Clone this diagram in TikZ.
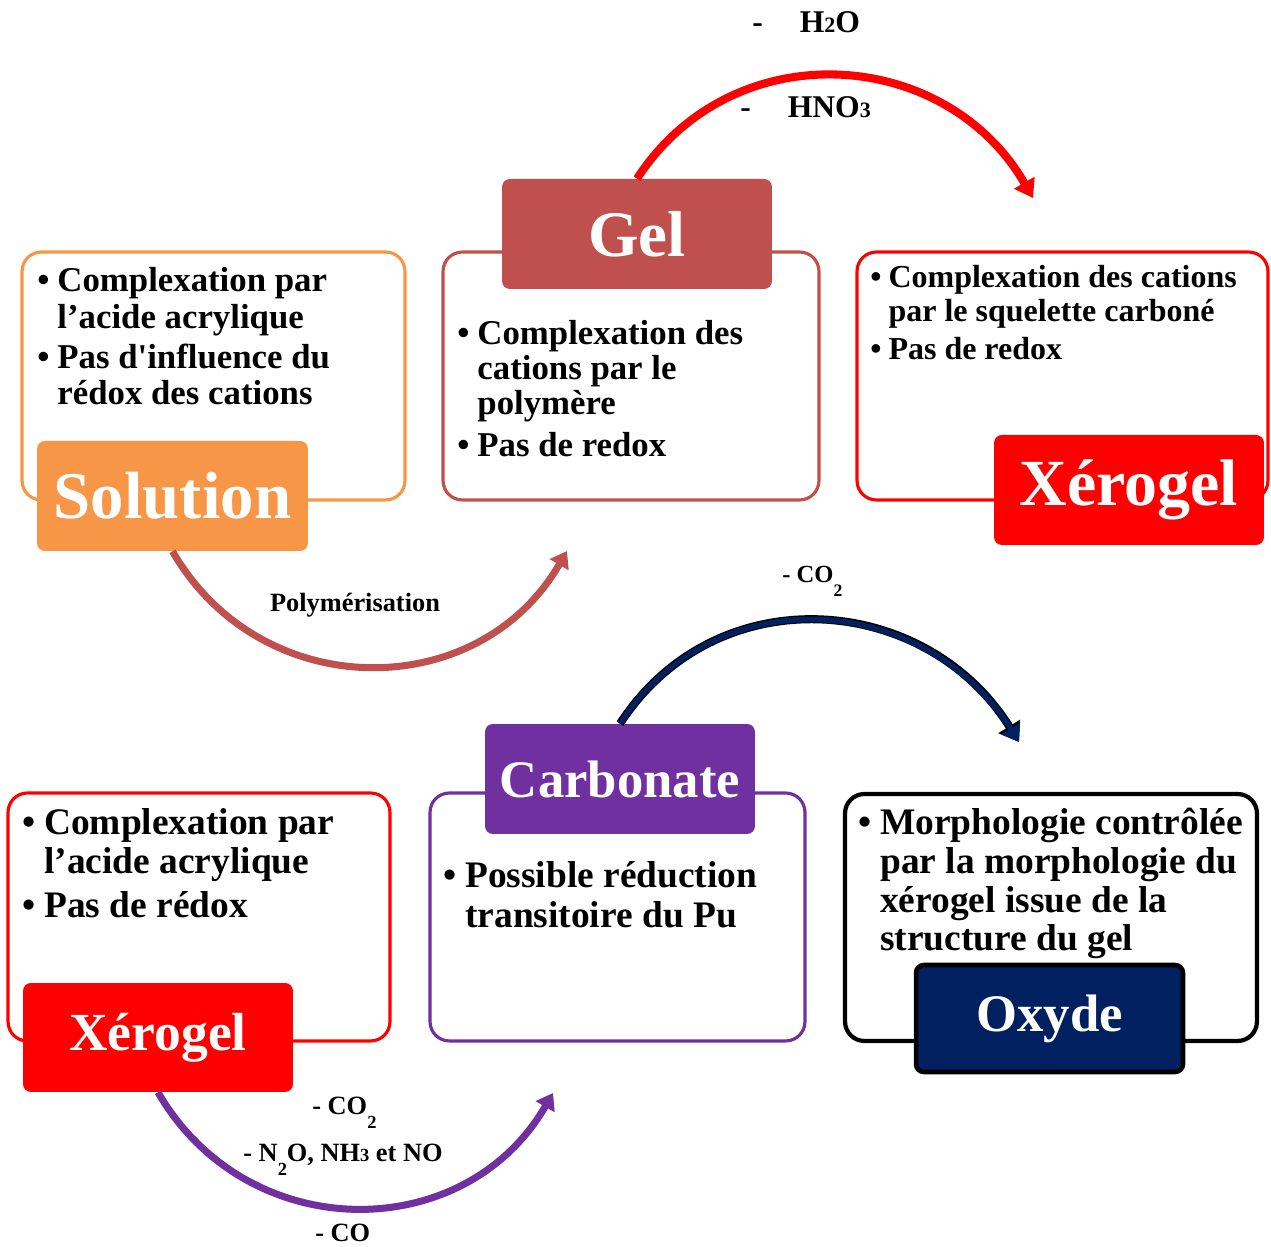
\documentclass[tikz,border=0pt]{standalone}
\usepackage{fontspec}
\setmainfont{Liberation Serif}[Ligatures=TeXOff]
\usetikzlibrary{arrows.meta}
\definecolor{solorange}{HTML}{F79646}
\definecolor{gelred}{HTML}{C0504D}
\definecolor{xerored}{HTML}{FF0000}
\definecolor{carbviolet}{HTML}{7030A0}
\definecolor{oxnavy}{HTML}{002060}
\newcommand{\blt}{\textbullet}
\newcommand{\lowsub}[2]{\raisebox{-7.5pt}{\fontsize{#1}{#1}\selectfont #2}}
\newcommand{\flatsub}[2]{{\fontsize{#1}{#1}\selectfont #2}}
\tikzset{
  stagebox/.style = {draw, line width=1.8pt, rounded corners=11pt, fill=white,
                     inner sep=0pt},
  stagelbl/.style = {text=white, rounded corners=4.5pt, inner sep=0pt,
                     font=\bfseries},
  notetxt/.style  = {anchor=base west, inner sep=0pt, align=left},
  steplbl/.style  = {inner sep=0pt, font=\bfseries},
  flow/.style     = {line width=4pt, -{Triangle[length=9pt,width=12pt]}},
}

\begin{document}
\begin{tikzpicture}[x=0.02cm,y=0.02cm]
  \useasboundingbox (0,0) rectangle (1271,1247);
  % top row: solution, gel, xerogel
  \node[stagebox, draw=solorange, minimum width=7.66cm, minimum height=4.96cm] (solbox) at (213.5,871) {};
  \node[stagelbl, fill=solorange, minimum width=5.42cm, minimum height=2.2cm,
        font=\bfseries\fontsize{38}{40}\selectfont] (sollbl) at (172.5,751) {Solution};
  \node[notetxt, font=\bfseries\fontsize{19.8}{20.7}\selectfont] (soltxt) at (37,955)
    {\begin{tabular}[t]{@{}l@{\hspace{4.5pt}}l@{}}
      \blt & Complexation par\\ & l’acide acrylique\\[2pt]
      \blt & Pas d'influence du\\ & rédox des cations
    \end{tabular}};

  \node[stagebox, draw=gelred, minimum width=7.52cm, minimum height=4.96cm] (gelbox) at (631,871) {};
  \node[stagelbl, fill=gelred, minimum width=5.4cm, minimum height=2.2cm,
        font=\bfseries\fontsize{37}{40}\selectfont] (gellbl) at (637,1013) {Gel};
  \node[notetxt, font=\bfseries\fontsize{19.8}{19.8}\selectfont] (geltxt) at (457,902)
    {\begin{tabular}[t]{@{}l@{\hspace{4.5pt}}l@{}}
      \blt & Complexation des\\ & cations par le\\ & polymère\\[4pt]
      \blt & Pas de redox
    \end{tabular}};

  \node[stagebox, draw=xerored, minimum width=8.22cm, minimum height=4.96cm] (xabox) at (1062.5,871) {};
  \node[stagelbl, fill=xerored, minimum width=5.4cm, minimum height=2.2cm,
        font=\bfseries\fontsize{37.5}{40}\selectfont] (xalbl) at (1129,757) {Xérogel};
  \node[notetxt, font=\bfseries\fontsize{18.2}{19.3}\selectfont] (xatxt) at (870,959)
    {\begin{tabular}[t]{@{}l@{\hspace{4pt}}l@{}}
      \blt & Complexation des cations\\ & par le squelette carboné\\[2pt]
      \blt & Pas de redox
    \end{tabular}};

  % bottom row: xerogel, carbonate, oxyde
  \node[stagebox, draw=xerored, minimum width=7.64cm, minimum height=4.96cm] (xbbox) at (199,330) {};
  \node[stagelbl, fill=xerored, minimum width=5.4cm, minimum height=2.18cm,
        font=\bfseries\fontsize{30.5}{32}\selectfont] (xblbl) at (158,209.5) {Xérogel};
  \node[notetxt, font=\bfseries\fontsize{21.3}{22}\selectfont] (xbtxt) at (22,412)
    {\begin{tabular}[t]{@{}l@{\hspace{5pt}}l@{}}
      \blt & Complexation par\\ & l’acide acrylique\\[3pt]
      \blt & Pas de rédox
    \end{tabular}};

  \node[stagebox, draw=carbviolet, minimum width=7.5cm, minimum height=4.96cm] (carbbox) at (617.5,330) {};
  \node[stagelbl, fill=carbviolet, minimum width=5.4cm, minimum height=2.2cm,
        font=\bfseries\fontsize{30}{32}\selectfont] (carblbl) at (620,468) {Carbonate};
  \node[notetxt, font=\bfseries\fontsize{21.3}{22.7}\selectfont] (carbtxt) at (443,359)
    {\begin{tabular}[t]{@{}l@{\hspace{5pt}}l@{}}
      \blt & Possible réduction\\ & transitoire du Pu
    \end{tabular}};

  \node[stagebox, draw=black, line width=2.4pt, minimum width=8.24cm, minimum height=4.94cm] (oxbox) at (1051,329.5) {};
  \node[stagelbl, fill=oxnavy, draw=black, line width=2.6pt, minimum width=5.34cm, minimum height=2.14cm,
        font=\bfseries\fontsize{30}{32}\selectfont] (oxlbl) at (1049.5,228.5) {Oxyde};
  \node[notetxt, font=\bfseries\fontsize{21.3}{22}\selectfont] (oxtxt) at (858,412)
    {\begin{tabular}[t]{@{}l@{\hspace{5pt}}l@{}}
      \blt & Morphologie contrôlée\\ & par la morphologie du\\ & xérogel issue de la\\ & structure du gel
    \end{tabular}};

  % transformation arrows
  \coordinate (polyend) at (567,696);
  \draw[flow, gelred] (sollbl.south) to[out=-60, in=-120, looseness=1.15] (polyend);
  \node[steplbl, font=\bfseries\fontsize{15}{16}\selectfont] (polylbl) at (355,642) {Polymérisation};

  \coordinate (dryend) at (1033,1049);
  \draw[flow, xerored, line width=4.6pt, -{Triangle[length=10pt,width=13pt]}]
    (gellbl.north) to[out=57, in=120, looseness=1.13] (dryend);
  \node[steplbl, anchor=base west, font=\bfseries\fontsize{18}{20}\selectfont] (h2olbl) at (752,1214)
    {-\hspace{21pt}H\flatsub{12.5}{2}O};
  \node[steplbl, anchor=base west, font=\bfseries\fontsize{18}{20}\selectfont] (hno3lbl) at (740,1129)
    {-\hspace{21pt}HNO\flatsub{12.5}{3}};

  \coordinate (calcend) at (1019,505);
  \draw[flow, oxnavy, line width=3.2pt, -{Triangle[length=9pt,width=12pt]},
        preaction={draw=black, line width=4.6pt, -{Triangle[length=10.5pt,width=14pt]}}]
    (carblbl.north) to[out=57, in=122, looseness=1.13] (calcend);
  \node[steplbl, anchor=base west, font=\bfseries\fontsize{14}{16}\selectfont] (co2a) at (782,664)
    {- CO\lowsub{10}{2}};

  \coordinate (decend) at (553,154);
  \draw[flow, carbviolet] (xblbl.south) to[out=-60, in=-120, looseness=1.15] (decend);
  \node[steplbl, anchor=base west, font=\bfseries\fontsize{15}{16}\selectfont] (co2b) at (312,132)
    {- CO\lowsub{10.5}{2}};
  \node[steplbl, anchor=base west, font=\bfseries\fontsize{15}{16}\selectfont] (noxlbl) at (243,85)
    {- N\lowsub{10.5}{2}O, NH\flatsub{10.5}{3} et NO};
  \node[steplbl, anchor=base west, font=\bfseries\fontsize{15}{16}\selectfont] (colbl) at (315,5)
    {- CO};
\end{tikzpicture}
\end{document}
